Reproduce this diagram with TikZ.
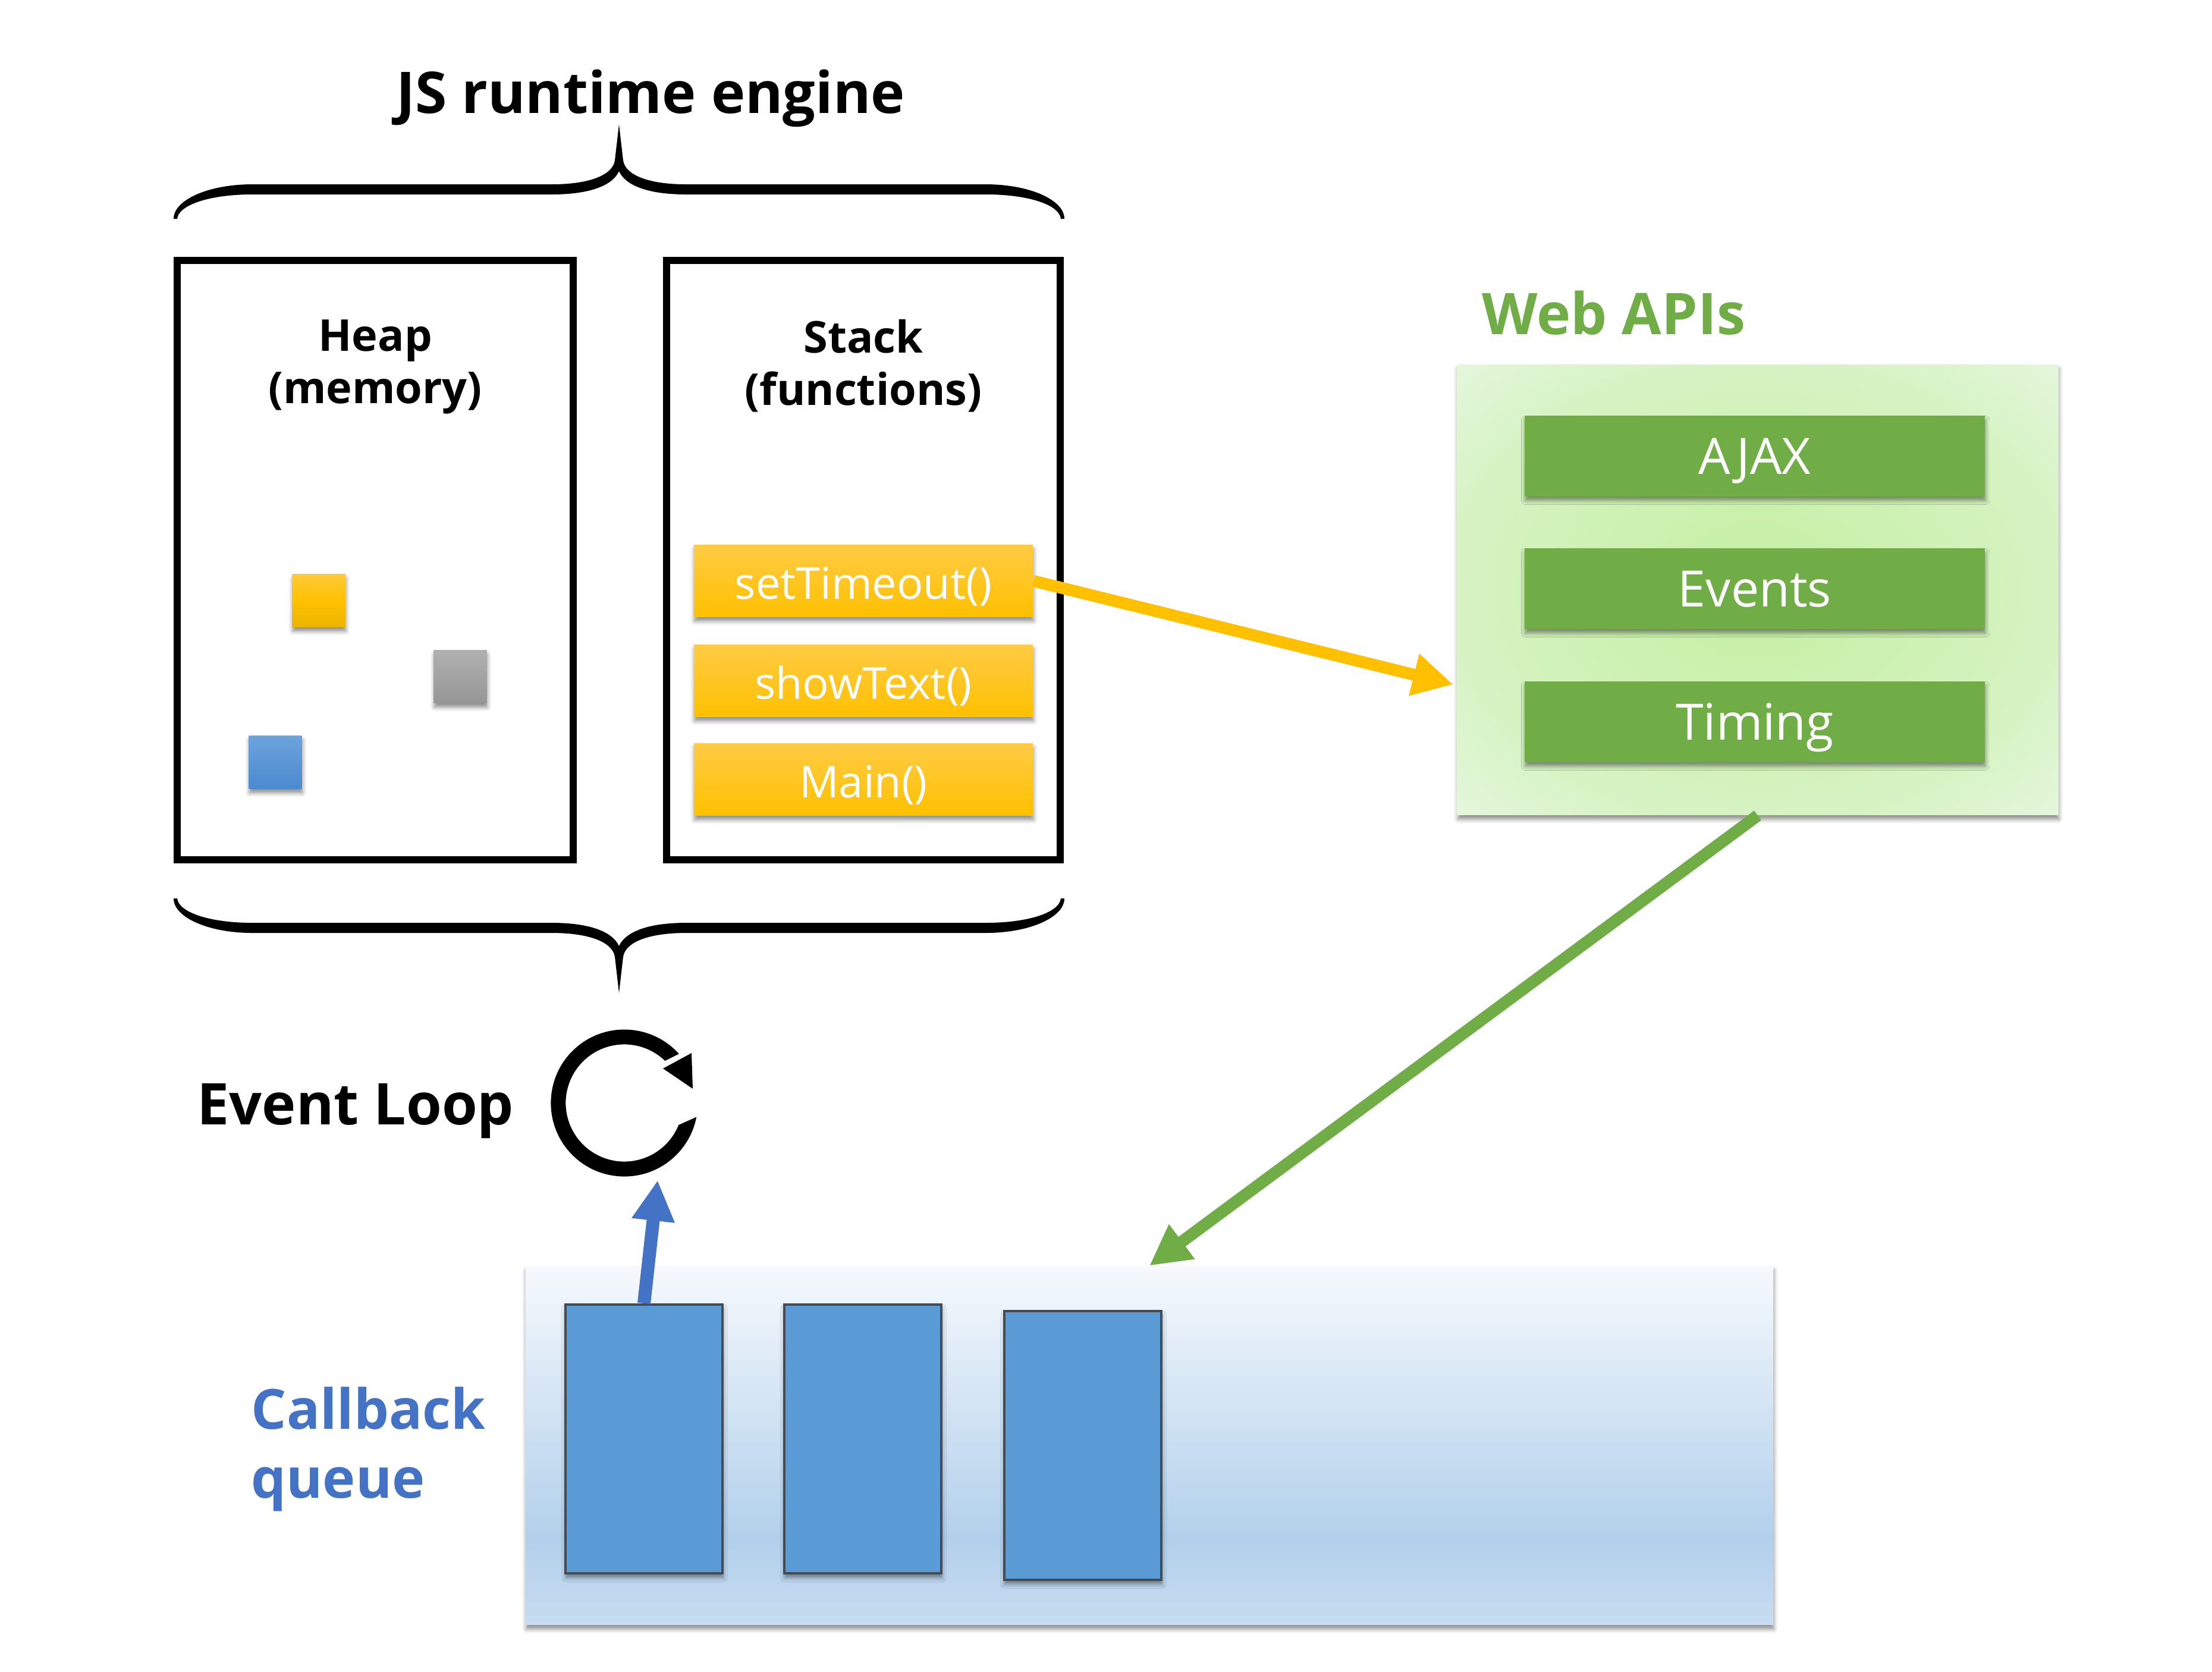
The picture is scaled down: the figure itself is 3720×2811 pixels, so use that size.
\documentclass[tikz,border=0pt]{standalone}
\usepackage{fontspec}
\setmainfont{Open Sans}
\usetikzlibrary{arrows.meta, shadows.blur, calc}
\definecolor{ytop}{HTML}{FFCB45}
\definecolor{ybot}{HTML}{FFC000}
\definecolor{apigreen}{HTML}{70AD47}
\definecolor{webin}{HTML}{C4EFA2}
\definecolor{webmid}{HTML}{D6F3C2}
\definecolor{webout}{HTML}{E5F7DE}
\definecolor{qtop}{HTML}{F6F9FD}
\definecolor{qdark}{HTML}{B2D0EB}
\definecolor{qlow}{HTML}{C7DCF0}
\definecolor{qblue}{HTML}{5B9BD5}
\definecolor{qedge}{HTML}{454B52}
\definecolor{arrblue}{HTML}{4472C4}
\definecolor{sqytop}{HTML}{FFCA3A}
\definecolor{sqymid}{HTML}{FFC000}
\definecolor{sqybot}{HTML}{EBB500}
\definecolor{sqgtop}{HTML}{B0B0B0}
\definecolor{sqgbot}{HTML}{969696}
\definecolor{sqbtop}{HTML}{6CA3DC}
\definecolor{sqbbot}{HTML}{4A8ACF}
\pgfdeclareverticalshading{queueshade}{100bp}{color(0bp)=(qlow); color(25bp)=(qlow); color(37bp)=(qdark); color(75bp)=(qtop); color(100bp)=(qtop)}
\pgfdeclareradialshading{webshade}{\pgfpoint{0bp}{0bp}}{color(0bp)=(webin); color(25bp)=(webmid); color(36bp)=(webout); color(50bp)=(webout)}
\tikzset{
  softshadow/.style={blur shadow={shadow xshift=0.01cm, shadow yshift=-0.07cm, shadow blur radius=0.07cm, shadow opacity=45}},
  panel/.style={draw=black, line width=0.12cm, inner sep=0, minimum height=10.08cm},
  heading/.style={font=\bfseries\fontsize{21}{25}\selectfont, align=center},
  bigtext/.style={font=\bfseries\fontsize{27.5}{32}\selectfont},
  fnbox/.style={top color=ytop, bottom color=ybot, text=white, font=\fontsize{21}{25}\selectfont, text height=0.7cm, text depth=0.1cm, minimum width=5.70cm, minimum height=1.21cm, inner sep=0, softshadow},
  apibox/.style={fill=apigreen, text=white, font=\fontsize{24}{28}\selectfont, text height=0.7cm, text depth=0.1cm, minimum width=7.73cm, minimum height=1.35cm, inner sep=0, softshadow},
  heapsq/.style={minimum size=0.89cm, inner sep=0, softshadow},
  qitem/.style={fill=qblue, draw=qedge, line width=0.04cm, minimum width=2.64cm, minimum height=4.52cm, inner sep=0, softshadow},
  jsbrace/.pic={\fill (292,-368) .. controls (292,-336) and (351,-310) .. (424,-310) -- (928,-310) .. controls (990,-310) and (1030,-295) .. (1034,-270) -- (1041,-209) -- (1048,-270) .. controls (1052,-295) and (1092,-310) .. (1154,-310) -- (1658,-310) .. controls (1731,-310) and (1790,-336) .. (1790,-368) -- (1784,-368) .. controls (1782,-345) and (1731,-327) .. (1658,-327) -- (1154,-327) .. controls (1090,-327) and (1052,-312) .. (1041,-288) .. controls (1030,-312) and (992,-327) .. (928,-327) -- (424,-327) .. controls (352,-327) and (300,-345) .. (298,-368) -- cycle;},
  bigarrow/.style={line width=0.2cm, -{Triangle[length=0.68cm, width=0.68cm]}}
}
\begin{document}
\begin{tikzpicture}[x=0.01cm, y=0.01cm]
\useasboundingbox (0,0) rectangle (3720,-2811);

% title and braces
\node[bigtext, anchor=base] (title) at (1094,-190) {JS runtime engine};
\pic at (0,0) {jsbrace};
\pic[yscale=-1] at (0,-1879) {jsbrace};

% heap and stack panels
\node[panel, minimum width=6.66cm] (heap) at (631,-942) {};
\node[panel, minimum width=6.62cm] (stack) at (1452,-942) {};
\node[heading] (heaplbl) at (631,-617) {Heap\\(memory)};
\node[heading] (stacklbl) at (1452,-615) {Stack\\(functions)};

% heap objects
\node[heapsq, top color=sqytop, bottom color=sqybot, middle color=sqymid] (sqy) at (536,-1010) {};
\node[heapsq, top color=sqgtop, bottom color=sqgbot] (sqg) at (774,-1138) {};
\node[heapsq, top color=sqbtop, bottom color=sqbbot] (sqb) at (463,-1282) {};

% stack frames
\node[fnbox] (st) at (1452,-977) {setTimeout()};
\node[fnbox] (sh) at (1452,-1145) {showText()};
\node[fnbox] (mn) at (1452,-1311) {Main()};

% web apis
\node[shading=webshade, shade, minimum width=10.10cm, minimum height=7.57cm, inner sep=0, softshadow] (web) at (2956,-992) {};
\node[bigtext, text=apigreen, anchor=base] (weblbl) at (2714,-562) {Web APIs};
\node[apibox] (ajax) at (2951,-767) {AJAX};
\node[apibox] (events) at (2951,-990) {Events};
\node[apibox] (timing) at (2951,-1214) {Timing};

% event loop
\node[bigtext, anchor=base] (looplbl) at (598,-1891) {Event Loop};
\coordinate (loop) at (1050,-1855);
\fill ($(loop)+(42:123.5)$) arc[start angle=42, end angle=349, radius=1.235cm] -- ($(loop)+(338:98.5)$) arc[start angle=338, end angle=46, radius=0.985cm] -- cycle;
\fill ($(loop)+(65,58)$) -- ($(loop)+(113,84)$) -- ($(loop)+(115,24)$) -- cycle;
\coordinate (loopin) at (1106,-1985);

% callback queue
\node[shading=queueshade, shade, minimum width=20.97cm, minimum height=6.03cm, inner sep=0, softshadow] (queue) at (1933,-2431) {};
\node[font=\bfseries\fontsize{26.5}{33}\selectfont, text=arrblue, align=left, anchor=west, inner sep=0] (qlbl) at (422,-2437) {Callback\\queue};
\node[qitem] (q1) at (1083,-2420) {};
\node[qitem] (q2) at (1451,-2420) {};
\node[qitem] (q3) at (1821,-2431) {};

% connectors
\coordinate (webin) at ($(web.west)+(-6,-159)$);
\draw[bigarrow, draw=ybot, fill=ybot] (st.east) -- (webin);
\draw[bigarrow, draw=apigreen, fill=apigreen] (web.south) -- (queue.north);
\draw[line width=0.22cm, draw=arrblue, -{Triangle[length=0.68cm, width=0.68cm]}, fill=arrblue] (q1.north) -- (loopin);
\end{tikzpicture}
\end{document}
